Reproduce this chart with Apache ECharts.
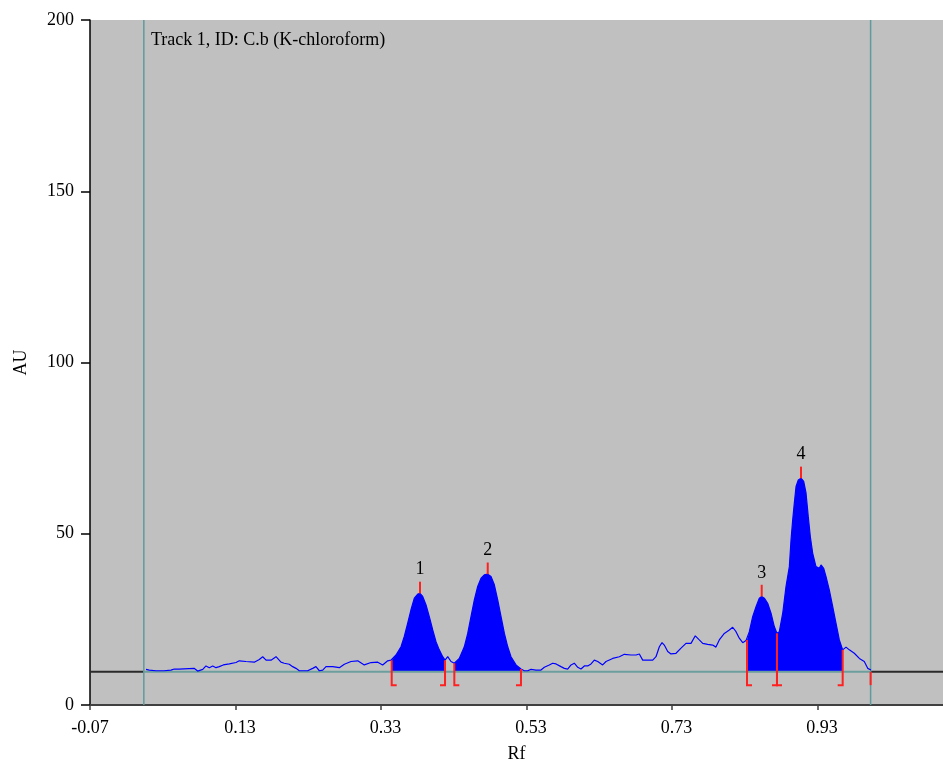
<!DOCTYPE html>
<html><head><meta charset="utf-8">
<script src="https://cdn.jsdelivr.net/npm/echarts@6/dist/echarts.min.js"></script>
<style>html,body{margin:0;padding:0;background:#fff}#c{width:943px;height:763px}</style>
</head><body><div id="c"></div>
<script>
// ---- data ----
const rf = [0.007,0.0115,0.0207,0.0317,0.0413,0.0459,0.0523,0.073,0.078,0.085,0.0894,0.094,0.0987,0.1032,0.1077,0.1132,0.1215,0.1307,0.1352,0.1444,0.1558,0.1627,0.1674,0.172,0.1788,0.1857,0.1925,0.197,0.2039,0.2086,0.2131,0.2177,0.2292,0.2361,0.2406,0.2452,0.2499,0.2544,0.2636,0.2727,0.2796,0.2888,0.298,0.307,0.3163,0.3255,0.3323,0.3392,0.3437,
0.3447,0.3506,0.3575,0.362,0.3667,0.3712,0.3758,0.3805,0.3836,0.3873,0.3919,0.3964,0.4011,0.4056,0.4101,0.4148,0.418,0.4217,0.4262,
0.4308,0.4376,0.4445,0.4492,0.4537,0.4583,0.4629,0.4675,0.472,0.4767,0.4812,0.4858,0.4904,0.495,0.4996,0.5042,0.5087,0.5156,0.5224,
0.527,0.5316,0.5362,0.543,0.5499,0.5545,0.5613,0.566,0.5706,0.5774,0.582,0.5866,0.5912,0.5957,0.6004,0.6049,0.6095,0.6141,0.6187,0.6232,0.6279,0.6347,0.6393,0.6485,0.6576,0.6645,0.6736,0.6805,0.6851,0.6897,0.6966,0.7035,0.708,0.7126,0.7163,0.7194,0.7241,0.7286,0.7355,0.7424,0.7492,0.7561,0.762,0.7675,0.7722,0.779,0.7859,0.7904,0.795,0.8019,0.8088,0.8134,0.818,0.8225,0.8272,0.8317,
0.8331,0.8363,0.8409,0.8455,0.85,0.8533,0.8569,0.8615,0.8661,0.8706,0.8743,
0.8775,0.8822,0.8867,0.8913,0.8936,0.8959,0.8981,0.9005,0.9036,0.9073,0.911,0.9142,0.9173,0.9201,0.9234,0.9279,0.9325,0.9348,0.9385,0.9417,0.9462,0.9509,0.9554,0.96,0.9646,
0.9692,0.9737,0.9806,0.9875,0.9943,0.999,1.0035];
const au = [10.4,10.2,10.0,10.0,10.2,10.5,10.5,10.7,9.9,10.4,11.4,10.9,11.4,10.9,11.2,11.7,12.0,12.4,12.9,12.7,12.5,13.3,14.1,13.1,13.1,14.1,12.5,12.2,11.9,11.2,10.7,10.0,10.0,10.7,11.2,10.0,10.2,11.2,11.2,10.9,11.9,12.7,12.9,11.7,12.4,12.5,11.7,12.9,13.1,
13.1,14.6,17.0,20.0,23.9,27.8,31.2,32.4,32.6,31.7,29.2,25.8,21.9,18.5,16.1,14.1,13.1,14.1,12.7,
12.2,13.6,17.0,20.9,25.8,30.7,34.6,37.0,38.0,38.2,37.5,35.1,30.7,25.8,20.9,17.0,14.1,11.7,10.5,
10.0,10.0,10.4,10.2,10.2,11.0,11.7,12.2,12.0,11.2,10.7,10.5,11.7,12.2,11.0,10.5,11.4,11.4,12.0,13.1,12.7,11.7,12.7,13.6,14.1,14.8,14.6,14.6,14.9,13.1,13.1,13.1,14.1,17.0,18.2,17.5,15.6,14.9,15.1,16.6,18.0,18.0,20.2,19.0,18.0,17.7,17.5,16.9,19.0,20.9,21.9,22.7,21.4,19.5,18.2,18.8,
19.0,21.4,25.8,28.7,31.2,31.7,31.2,29.7,26.8,22.9,20.9,
21.4,26.8,34.6,40.4,48.2,54.1,58.9,63.8,65.7,66.2,65.3,61.9,55.0,49.2,44.3,40.4,39.9,40.9,39.9,37.5,33.6,28.7,23.9,19.0,16.1,
16.9,16.1,15.1,13.6,12.7,10.7,10.2];

const xTickValues = [-0.07, 0.13, 0.33, 0.53, 0.73, 0.93];
const yTickValues = [0, 50, 100, 150, 200];
const peakLabels = ['1', '2', '3', '4'];
const peakStart = [0.3447, 0.4308, 0.8331, 0.8743];
const peakEnd = [0.418, 0.5224, 0.8743, 0.9646];
const peakApexRf = [0.3836, 0.4767, 0.8533, 0.9073];
const peakApexAu = [32.6, 38.2, 31.7, 66.2];
const trackLines = [0.004, 1.003];
const baselineAu = 9.7;
const markerBottomAu = 5.8;
const apexMarkAu = 3.4;
const titleText = 'Track 1, ID: C.b (K-chloroform)';

// ---- chart ----
const X_MIN = -0.07, X_MAX = 1.1025;
const FONT = '"Liberation Serif", "Times New Roman", serif';
function interp(x) {
  for (let k = 0; k < rf.length - 1; k++) {
    if (x >= rf[k] && x <= rf[k + 1]) {
      const t = (x - rf[k]) / (rf[k + 1] - rf[k]);
      return au[k] + t * (au[k + 1] - au[k]);
    }
  }
  return au[au.length - 1];
}
const RED = '#ff2020';
const TEAL = '#5f9a9c';

const chart = echarts.init(document.getElementById('c'), null, {renderer: 'canvas'});
chart.setOption({
  animation: false,
  backgroundColor: '#ffffff',
  grid: {left: 90, right: 0, top: 20, bottom: 58, show: true, backgroundColor: '#c0c0c0', borderWidth: 0,
    containLabel: false, outerBoundsMode: 'none'},
  graphic: [{
    type: 'text', left: 151, top: 31, z: 10,
    style: {text: titleText, font: '18px ' + FONT, fill: '#000'}
  }],
  xAxis: {
    type: 'value', min: X_MIN, max: X_MAX,
    name: 'Rf', nameLocation: 'middle', nameGap: 40,
    nameTextStyle: {fontFamily: FONT, fontSize: 18, color: '#000'},
    axisLine: {show: true, onZero: false, lineStyle: {color: '#404040', width: 2}},
    axisTick: {show: true, length: 5, lineStyle: {color: '#404040', width: 1.5}, customValues: xTickValues},
    axisLabel: {
      margin: 14, fontFamily: FONT, fontSize: 18, color: '#000', customValues: xTickValues,
      formatter: v => (v < 0 ? '' : '\u2002') + v.toFixed(2)
    },
    splitLine: {show: false}
  },
  yAxis: {
    type: 'value', min: 0, max: 200, interval: 50,
    name: 'AU', nameLocation: 'middle', nameGap: 60,
    nameTextStyle: {fontFamily: FONT, fontSize: 18, color: '#000'},
    axisLine: {show: true, onZero: false, lineStyle: {color: '#000', width: 1.5}},
    axisTick: {show: true, length: 9, lineStyle: {color: '#000', width: 1.5}},
    axisLabel: {margin: 16, fontFamily: FONT, fontSize: 18, color: '#000',
      formatter: v => yTickValues.includes(v) ? String(v) : ''},
    splitLine: {show: false}
  },
  series: [
    { // guide lines (behind)
      type: 'custom', z: 1, silent: true, data: [[0]],
      renderItem: (params, api) => {
        const a = api.coord([X_MIN, baselineAu]), a2 = api.coord([trackLines[0], baselineAu]);
        const b2 = api.coord([trackLines[1], baselineAu]), b = api.coord([X_MAX, baselineAu]);
        const children = [
          {type: 'line', shape: {x1: a[0], y1: a[1], x2: a2[0], y2: a2[1]}, style: {stroke: '#2a2a2a', lineWidth: 2}},
          {type: 'line', shape: {x1: b2[0], y1: b2[1], x2: b[0], y2: b[1]}, style: {stroke: '#2a2a2a', lineWidth: 2}}
        ];
        trackLines.forEach(t => {
          const p = api.coord([t, 0]), q = api.coord([t, 200]);
          children.push({type: 'line', shape: {x1: p[0], y1: p[1], x2: q[0], y2: q[1]},
            style: {stroke: TEAL, lineWidth: 1.5}});
        });
        return {type: 'group', children};
      }
    },
    { // peak fills
      type: 'custom', z: 2, silent: true,
      data: peakStart.map((s, i) => [s, peakEnd[i]]),
      encode: {x: [0, 1]},
      renderItem: (params, api) => {
        const s = api.value(0), e = api.value(1);
        const pts = [api.coord([s, interp(s)])];
        for (let k = 0; k < rf.length; k++) if (rf[k] > s && rf[k] < e) pts.push(api.coord([rf[k], au[k]]));
        pts.push(api.coord([e, interp(e)]));
        pts.push(api.coord([e, baselineAu]));
        pts.push(api.coord([s, baselineAu]));
        return {type: 'polygon', shape: {points: pts}, style: {fill: '#0000ff'}};
      }
    },
    { // teal baseline within track
      type: 'custom', z: 3, silent: true, data: [[0]],
      renderItem: (params, api) => {
        const a = api.coord([trackLines[0], baselineAu]), b = api.coord([trackLines[1], baselineAu]);
        return {type: 'line', shape: {x1: a[0], y1: a[1], x2: b[0], y2: b[1]},
          style: {stroke: '#6c9e9e', lineWidth: 2}};
      }
    },
    { // densitogram curve
      type: 'line', z: 4, silent: true, showSymbol: false, symbol: 'none',
      data: rf.map((x, i) => [x, au[i]]),
      lineStyle: {color: '#0000ff', width: 1.2}
    },
    { // red integration markers and peak labels
      type: 'custom', z: 5, silent: true,
      data: peakStart.map((s, i) => [s, peakEnd[i], peakApexRf[i], peakApexAu[i]]),
      encode: {x: [0, 1]},
      renderItem: (params, api) => {
        const i = params.dataIndex;
        const s = api.value(0), e = api.value(1), ax = api.value(2), ay = api.value(3);
        const FOOT = 5;
        const st = {stroke: RED, lineWidth: 2};
        const children = [];
        const st0 = api.coord([s, interp(s)]), sb = api.coord([s, markerBottomAu]);
        children.push({type: 'polyline', shape: {points: [st0, sb, [sb[0] + FOOT, sb[1]]]}, style: Object.assign({fill: null}, st)});
        const et0 = api.coord([e, interp(e)]), eb = api.coord([e, markerBottomAu]);
        children.push({type: 'polyline', shape: {points: [et0, eb, [eb[0] - FOOT, eb[1]]]}, style: Object.assign({fill: null}, st)});
        const p0 = api.coord([ax, ay]), p1 = api.coord([ax, ay + apexMarkAu]);
        children.push({type: 'line', shape: {x1: p0[0], y1: p0[1], x2: p1[0], y2: p1[1]}, style: st});
        children.push({type: 'text', x: p1[0], y: p1[1] - 3,
          style: {text: peakLabels[i], font: '18px ' + FONT, fill: '#000', align: 'center', verticalAlign: 'bottom'}});
        if (i === 0) {
          const t0 = api.coord([trackLines[1], baselineAu]), t1 = api.coord([trackLines[1], markerBottomAu]);
          children.push({type: 'line', shape: {x1: t0[0], y1: t0[1], x2: t1[0], y2: t1[1]}, style: st});
        }
        return {type: 'group', children};
      }
    }
  ]
});
</script>
</body></html>
